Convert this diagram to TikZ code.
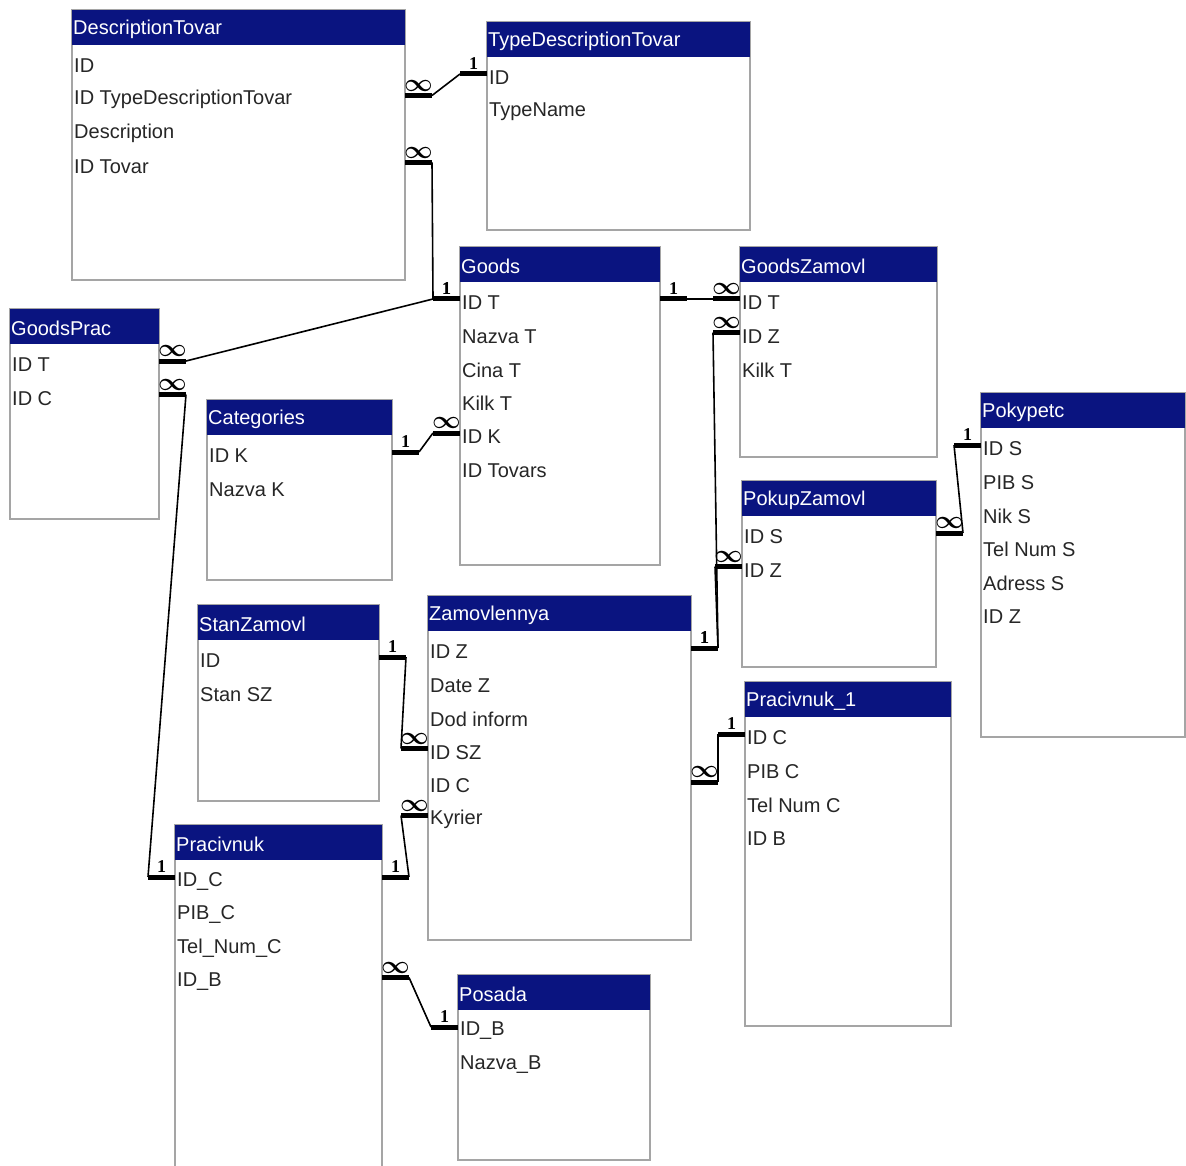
\documentclass[tikz,border=0pt]{standalone}
\usepackage{fontspec}
\setmainfont{Liberation Sans}
\newfontfamily\cardfont{Liberation Serif}
\usetikzlibrary{calc}
\definecolor{hdrblue}{RGB}{10,20,128}
\definecolor{boxgray}{RGB}{165,165,165}

\tikzset{
  tblbody/.style={draw=boxgray, line width=1.5pt, fill=white, anchor=north west, inner sep=0pt, outer sep=0pt},
  tblhead/.style={fill=hdrblue, anchor=north west, inner sep=0pt, outer sep=0pt, minimum height=35pt},
  tbltitle/.style={text=white, anchor=west, inner sep=1pt},
  tblrow/.style={text=black!85, anchor=west, inner sep=1pt},
  stub/.style={line width=5pt},
  link/.style={line width=1.6pt},
  card/.style={font=\cardfont\bfseries\fontsize{18}{18}\selectfont, inner sep=0pt, anchor=south}
}
\newcommand*{\cardone}{1}
\newcommand*{\cardmany}{{\fontsize{27}{27}\selectfont\boldmath$\infty$}}

% name, x, y, width, height, title, fields
\newcommand{\erTable}[7]{%
  \node[tblbody, minimum width=#4pt, minimum height=#5pt] (#1) at (#2,#3) {};
  \node[tblhead, minimum width=#4pt] (#1-h) at (#1.north west) {};
  \node[tbltitle] (#1-t) at ($(#1-h.west)+(0,2)$) {#6};
  \foreach \fld [count=\i] in {#7}
    \node[tblrow] (#1-\i) at ($(#1.north west)+(1,56+33.5*\i-33.5)$) {\fld};
}
% table A, row A, side A, card A, table B, row B, side B, card B
\newcommand{\erLink}[8]{%
  \coordinate (#1-#2-s) at ($(#1.#3 |- #1-#2)+(0,-4)$);
  \coordinate (#1-#2-o) at ($(#1-#2-s)!-27pt!(#1.center |- #1-#2-s)$);
  \coordinate (#5-#6-s) at ($(#5.#7 |- #5-#6)+(0,-4)$);
  \coordinate (#5-#6-o) at ($(#5-#6-s)!-27pt!(#5.center |- #5-#6-s)$);
  \draw[stub] (#1-#2-s) -- (#1-#2-o);
  \draw[stub] (#5-#6-s) -- (#5-#6-o);
  \draw[link] (#1-#2-o) -- (#5-#6-o);
  \node[card] (#1-#2-c) at ($(#1-#2-s)!.5!(#1-#2-o)+(0,-4)$) {#4};
  \node[card] (#5-#6-c) at ($(#5-#6-s)!.5!(#5-#6-o)+(0,-4)$) {#8};
}

\begin{document}
\begin{tikzpicture}[x=1pt, y=-1pt, font=\fontsize{20}{24}\selectfont]
\useasboundingbox (0,0) rectangle (1186,1166);

% tables
\erTable{desc}{72}{10}{333}{270}{DescriptionTovar}{ID, ID TypeDescriptionTovar, Description, ID Tovar}
\erTable{tdesc}{487}{22}{263}{208}{TypeDescriptionTovar}{ID, TypeName}
\erTable{goods}{460}{247}{200}{318}{Goods}{ID T, Nazva T, Cina T, Kilk T, ID K, ID Tovars}
\erTable{gzam}{740}{247}{197}{210}{GoodsZamovl}{ID T, ID Z, Kilk T}
\erTable{gprac}{10}{309}{149}{210}{GoodsPrac}{ID T, ID C}
\erTable{cat}{207}{400}{185}{180}{Categories}{ID K, Nazva K}
\erTable{pok}{981}{393}{204}{344}{Pokypetc}{ID S, PIB S, Nik S, Tel Num S, Adress S, ID Z}
\erTable{pzam}{742}{481}{194}{186}{PokupZamovl}{ID S, ID Z}
\erTable{stan}{198}{605}{181}{196}{StanZamovl}{ID, Stan SZ}
\erTable{zam}{428}{596}{263}{344}{Zamovlennya}{ID Z, Date Z, Dod inform, ID SZ, ID C, Kyrier}
\erTable{prac1}{745}{682}{206}{344}{Pracivnuk\_1}{ID C, PIB C, Tel Num C, ID B}
\erTable{prac}{175}{825}{207}{360}{Pracivnuk}{ID\_C, PIB\_C, Tel\_Num\_C, ID\_B}
\erTable{posada}{458}{975}{192}{185}{Posada}{ID\_B, Nazva\_B}

% relations
\erLink{desc}{2}{east}{\cardmany}{tdesc}{1}{west}{\cardone}
\erLink{desc}{4}{east}{\cardmany}{goods}{1}{west}{\cardone}
\erLink{gprac}{1}{east}{\cardmany}{goods}{1}{west}{\cardone}
\erLink{goods}{1}{east}{\cardone}{gzam}{1}{west}{\cardmany}
\erLink{zam}{1}{east}{\cardone}{gzam}{2}{west}{\cardmany}
\erLink{zam}{1}{east}{\cardone}{pzam}{2}{west}{\cardmany}
\erLink{cat}{1}{east}{\cardone}{goods}{5}{west}{\cardmany}
\erLink{pok}{1}{west}{\cardone}{pzam}{1}{east}{\cardmany}
\erLink{gprac}{2}{east}{\cardmany}{prac}{1}{west}{\cardone}
\erLink{stan}{1}{east}{\cardone}{zam}{4}{west}{\cardmany}
\erLink{prac}{1}{east}{\cardone}{zam}{6}{west}{\cardmany}
\erLink{zam}{5}{east}{\cardmany}{prac1}{1}{west}{\cardone}
\erLink{prac}{4}{east}{\cardmany}{posada}{1}{west}{\cardone}
\end{tikzpicture}
\end{document}
